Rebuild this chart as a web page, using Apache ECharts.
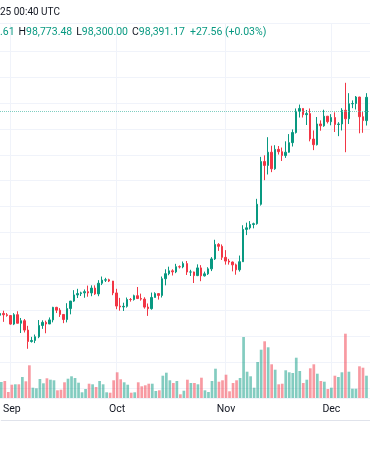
<!DOCTYPE html>
<html><head><meta charset="utf-8">
<script src="https://cdn.jsdelivr.net/npm/echarts@6/dist/echarts.min.js"></script>
<style>html,body{margin:0;padding:0;background:#fff}#c{width:370px;height:450px}</style>
</head><body><div id="c"></div><script>
const dates=['Aug 29','Aug 30','Aug 31',
'Sep 1','Sep 2','Sep 3','Sep 4','Sep 5','Sep 6','Sep 7','Sep 8','Sep 9','Sep 10','Sep 11','Sep 12','Sep 13','Sep 14','Sep 15','Sep 16','Sep 17','Sep 18','Sep 19','Sep 20','Sep 21','Sep 22','Sep 23','Sep 24','Sep 25','Sep 26','Sep 27','Sep 28','Sep 29','Sep 30',
'Oct 1','Oct 2','Oct 3','Oct 4','Oct 5','Oct 6','Oct 7','Oct 8','Oct 9','Oct 10','Oct 11','Oct 12','Oct 13','Oct 14','Oct 15','Oct 16','Oct 17','Oct 18','Oct 19','Oct 20','Oct 21','Oct 22','Oct 23','Oct 24','Oct 25','Oct 26','Oct 27','Oct 28','Oct 29','Oct 30','Oct 31',
'Nov 1','Nov 2','Nov 3','Nov 4','Nov 5','Nov 6','Nov 7','Nov 8','Nov 9','Nov 10','Nov 11','Nov 12','Nov 13','Nov 14','Nov 15','Nov 16','Nov 17','Nov 18','Nov 19','Nov 20','Nov 21','Nov 22','Nov 23','Nov 24','Nov 25','Nov 26','Nov 27','Nov 28','Nov 29','Nov 30',
'Dec 1','Dec 2','Dec 3','Dec 4','Dec 5','Dec 6','Dec 7','Dec 8','Dec 9','Dec 10','Dec 11','Dec 12'];

const opens=[59020,59370,59120,
58970,57320,59130,57480,57970,56160,53950,54160,54870,57050,57650,57340,58130,60550,60000,59180,58200,60310,61760,62950,63200,63350,63580,63340,64270,63150,65200,65800,65880,65630,
63330,60800,60630,60750,62070,62060,62800,62250,62140,60600,60300,62460,63200,62850,66080,67050,67600,67400,68400,68360,69000,67370,67380,66680,68170,66630,67020,67980,69900,72700,72330,
70200,69480,69300,68750,67800,69360,75600,75900,76550,76700,80450,88700,87950,90500,87300,91050,90600,89850,90500,92350,94300,98400,98950,97750,97950,93050,91950,95950,95600,97450,
96400,97200,95850,95950,98600,96950,99850,99900,101150,97350,96600,null];
const highs=[61170,59900,59450,
59060,59430,59800,58500,58300,56980,54850,55300,58100,58050,57990,58600,60650,60650,60400,59200,61350,61800,63870,64130,63570,64000,64750,64800,64800,65800,66500,66250,66080,65650,
64130,62380,61450,62450,62350,63000,64480,63200,62500,61300,63400,63460,63280,66500,67900,68400,67900,68950,68650,69400,69500,67800,67450,68850,68700,67450,68300,70250,73600,72950,72700,
71600,69900,69400,69000,70550,76400,76900,77200,76900,81500,89600,89900,93400,91750,91850,91700,91400,92600,94000,94900,98950,99700,98950,98650,98950,94700,97300,96650,98700,97500,
97850,98200,96300,99000,103900,101900,100500,101350,101200,98250,101900,null];
const lows=[58770,57750,58750,
57200,57120,57450,55600,55700,52550,53750,53650,54600,56400,55550,57330,57650,59450,58700,57500,57650,59200,61600,62350,62740,62400,62600,62700,62950,62700,64850,65440,65430,62900,
60200,59900,59850,60500,61650,61850,62150,61850,60300,58900,60100,62450,62050,62450,64800,66750,66700,67150,68050,68100,66800,66600,65250,66580,65600,66500,66800,67550,69700,71450,69700,
68800,68800,67500,66850,67450,69300,74500,75600,75800,76500,80200,85100,86200,86650,87100,90050,88800,89400,90400,91600,94100,97200,97200,95750,92600,90900,91800,94650,95400,96050,
95700,94400,93600,94700,90500,95950,99000,98750,94150,94250,95650,null];
const closes=[59370,59120,58970,
57320,59130,57480,57970,56160,53950,54160,54870,57050,57650,57340,58130,60550,60000,59180,58200,60310,61760,62950,63200,63350,63580,63340,64270,63150,65200,65800,65880,65630,63330,
60800,60630,60750,62070,62060,62800,62250,62140,60600,60300,62460,63200,62850,66080,67050,67600,67400,68400,68360,69000,67370,67380,66680,68170,66630,67020,67980,69900,72700,72330,70200,
69480,69300,68750,67800,69360,75600,75900,76550,76700,80450,88700,87950,90500,87300,91050,90600,89850,90500,92350,94300,98400,98950,97750,97950,93050,91950,95950,95600,97450,96400,
97200,95850,95950,98600,96950,99850,99900,101150,97350,96600,101100,null];
const volumes=[16,17,6,
13.3,13.7,13.7,21,16.7,32.7,10.3,9.7,19,14.7,19.7,18.3,17.7,7.7,8.3,15.7,19.3,21.7,20,15.3,5.7,9,14.3,13.7,11,17,13.7,5.7,5.3,17.7,
25.7,18.7,15.7,13.3,5.3,5.7,15.7,11.7,12.7,14.3,14.3,7,7.7,22.3,25.3,17.7,15,17,3.7,7.3,18.3,15,15,13.7,20.3,7.7,6,17,29.3,16.3,17.7,
23.3,6.7,15,17.7,20,61,26.3,21.7,10.3,36,48.3,56.7,50.7,33.7,28.3,13.7,14.3,27.7,25.7,25,40.3,27,15,18.3,29.7,33.7,24.3,17,16.3,9,
10.3,22.3,21,25.7,64.3,26.3,9.3,9.3,31.7,30.3,22.3,null];
const lastPrice=98391.17;
const headerTime='25 00:40 UTC';
const headerParts=[['','.61'],['H','98,773.48'],['L','98,300.00'],['C','98,391.17'],['','+27.56 (+0.03%)']];

const UP='#089981', DOWN='#F23645', GRID='#f0f3fa';
const candleData=dates.map((d,i)=>opens[i]==null?'-':[opens[i],closes[i],lows[i],highs[i]]);
const volData=dates.map((d,i)=>volumes[i]==null?'-':{value:volumes[i],itemStyle:{color:closes[i]>=opens[i]?'rgba(8,153,129,0.5)':'rgba(242,54,69,0.5)'}});
const isMonthStart=(i,v)=>/ 1$/.test(v);
const hdr=headerParts.map((p,i)=>(p[0]?'{k|'+p[0]+'}':'')+'{'+(i===0?'v0':(p[0]?'v':'vp'))+'|'+p[1]+'}').join('');
const splitColors=[];for(let i=0;i<17;i++)splitColors.push(i===15?'rgba(0,0,0,0)':GRID);

const FONT='Roboto';
const FS=10.5;
const chart=echarts.init(document.getElementById('c'),null,{renderer:'canvas'});
chart.setOption({
  animation:false,
  backgroundColor:'#ffffff',
  textStyle:{fontFamily:FONT},
  title:[
    {text:headerTime,left:0,top:7,padding:0,textStyle:{fontSize:10,fontWeight:'normal',color:'#131722',fontFamily:FONT}},
    {text:hdr,left:0,top:27,padding:0,textStyle:{fontSize:FS,fontWeight:'normal',fontFamily:FONT,rich:{
      k:{fontSize:FS,color:'#131722',fontFamily:FONT,padding:[0,0,0,4]},
      v:{fontSize:FS,color:UP,fontFamily:FONT},
      vp:{fontSize:FS,color:UP,fontFamily:FONT,padding:[0,0,0,5]},
      v0:{fontSize:FS,color:UP,fontFamily:FONT}
    }}}
  ],
  grid:[
    {left:-1.65,width:372.6,top:23,height:375},
    {left:-1.65,width:372.6,top:298,height:122}
  ],
  xAxis:[
    {type:'category',gridIndex:0,data:dates,boundaryGap:false,axisLine:{show:false},axisTick:{show:false},axisLabel:{show:false},
     splitLine:{show:true,interval:isMonthStart,lineStyle:{color:GRID,width:1}}},
    {type:'category',gridIndex:1,data:dates,boundaryGap:false,axisLine:{show:true,onZero:false,lineStyle:{color:'#e0e3eb'}},axisTick:{show:false},
     splitLine:{show:false},
     axisLabel:{show:true,inside:true,margin:5,interval:isMonthStart,formatter:v=>v.split(' ')[0],color:'#131722',fontSize:10.5,fontFamily:FONT}}
  ],
  yAxis:[
    {type:'value',gridIndex:0,min:43050,max:115444,splitNumber:15,scale:true,axisLine:{show:false},axisTick:{show:false},axisLabel:{show:false},
     splitLine:{show:true,lineStyle:{color:splitColors,width:1}}},
    {type:'value',gridIndex:1,min:-22,max:100,axisLine:{show:false},axisTick:{show:false},axisLabel:{show:false},splitLine:{show:false}}
  ],
  series:[
    {type:'bar',xAxisIndex:1,yAxisIndex:1,data:volData,barWidth:2.7,silent:true},
    {type:'candlestick',xAxisIndex:0,yAxisIndex:0,data:candleData,barWidth:2,clip:false,
     itemStyle:{color:UP,color0:DOWN,borderColor:UP,borderColor0:DOWN,borderWidth:1},
     markLine:{silent:true,symbol:['none','none'],label:{show:false},
       lineStyle:{color:'#5fc2b2',type:'dotted',width:1,opacity:0.8},data:[{yAxis:lastPrice}]}}
  ]
});
</script></body></html>
